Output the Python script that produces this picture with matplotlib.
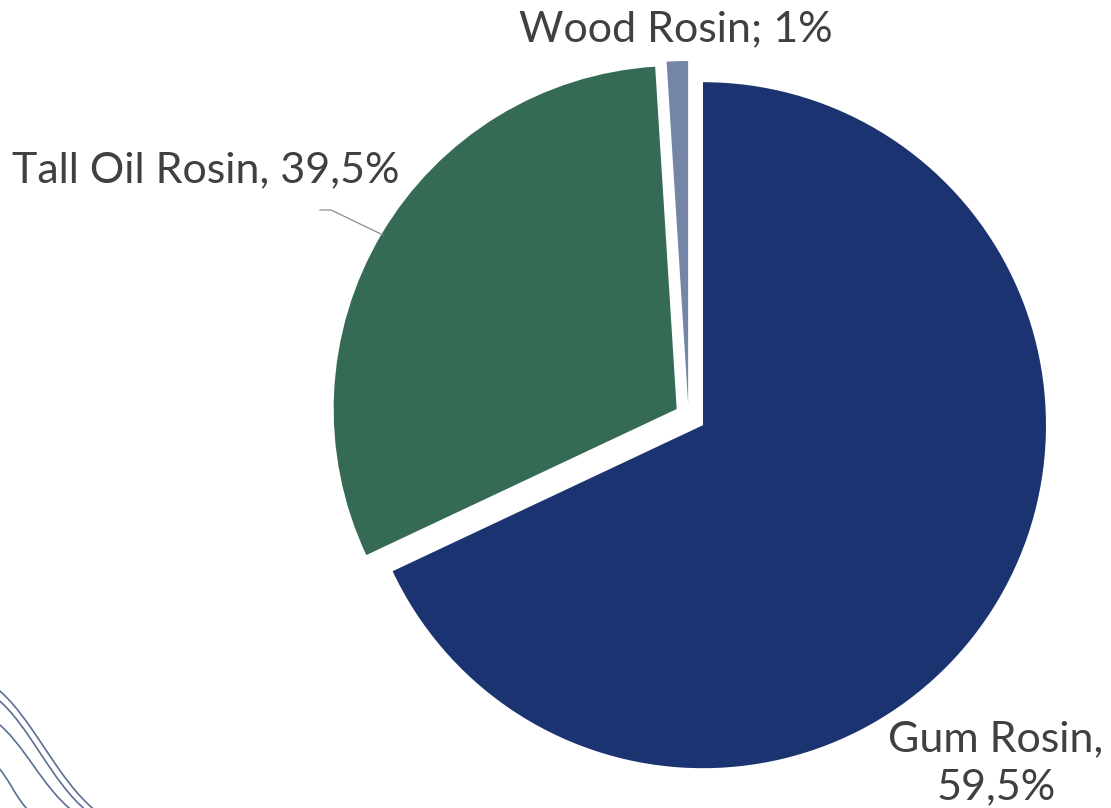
import matplotlib
matplotlib.use("Agg")
import matplotlib.pyplot as plt
from matplotlib.path import Path
from matplotlib.patches import PathPatch

# slice data and the label texts shown
names = ["Gum Rosin", "Tall Oil Rosin", "Wood Rosin"]
shares = [68.0, 31.0, 1.0]
label_texts = ["Gum Rosin,\n59,5%", "Tall Oil Rosin, 39,5%", "Wood Rosin; 1%"]
explode = [0.05, 0.04, 0.035]
colors = ["#1B3370", "#356B55", "#7585A8"]

W, H = 1111, 808
cx, cy, R = 688.5, 416, 343

def px(x, y):
    # image pixel -> data coords (pie radius = 1)
    return (x - cx) / R, (cy - y) / R

fig = plt.figure(figsize=(W / 100, H / 100), dpi=100)
ax = fig.add_axes([0, 0, 1, 1])

ax.pie(shares, explode=explode, colors=colors, startangle=90, counterclock=False,
       radius=1, wedgeprops=dict(linewidth=0))

# pie() resets the limits, so set them afterwards
ax.set_xlim(px(0, 0)[0], px(W, 0)[0])
ax.set_ylim(px(0, H)[1], px(0, 0)[1])
ax.set_aspect("equal")
ax.axis("off")

font = "Lato"
tc = "#404040"
fs = 31

x, y = px(206, 182)
ax.text(x, y, label_texts[1], ha="center", va="baseline", fontsize=fs, color=tc, family=font)
x, y = px(676, 41)
ax.text(x, y, label_texts[2], ha="center", va="baseline", fontsize=fs, color=tc, family=font)
x, y = px(996, 799)
ax.text(x, y, label_texts[0], ha="center", va="baseline", fontsize=fs, color=tc,
        family=font, linespacing=1.3, multialignment="center")

# leader line for tall oil label
lx, ly = zip(px(320, 210), px(331, 210), px(383, 235))
ax.plot(lx, ly, color="#8C8C8C", lw=0.9)

# decorative wavy lines bottom left
for (y0, x1) in [(693, 93), (703, 84), (727, 70), (770, 26)]:
    p0 = px(-5, y0 - 6)
    p1 = px(x1 * 0.35, y0 + (808 - y0) * 0.2)
    p2 = px(x1 * 0.6, y0 + (808 - y0) * 0.75)
    p3 = px(x1 + 4, 812)
    path = Path([p0, p1, p2, p3], [Path.MOVETO, Path.CURVE4, Path.CURVE4, Path.CURVE4])
    ax.add_patch(PathPatch(path, fill=False, edgecolor="#5A6E96", lw=1.2))

fig.savefig("out.png", dpi=100)
